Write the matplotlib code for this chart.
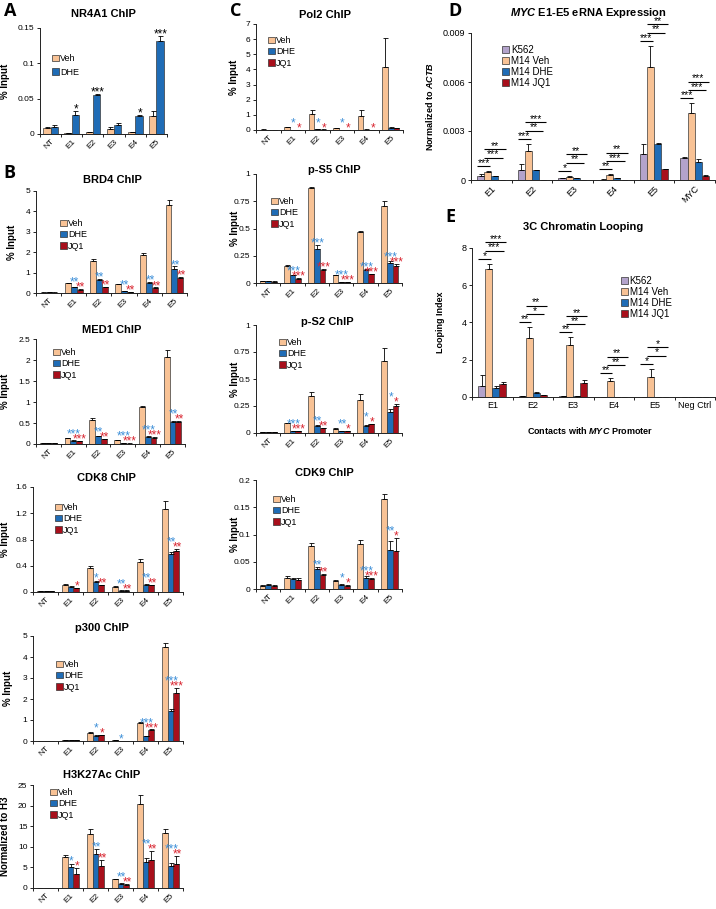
import numpy as np
import matplotlib
matplotlib.use('Agg')
import matplotlib.pyplot as plt
from matplotlib.patches import Patch

plt.rcParams['font.family'] = ['Liberation Sans', 'DejaVu Sans']
plt.rcParams['mathtext.fontset'] = 'custom'
plt.rcParams['mathtext.it'] = 'Liberation Sans:italic:bold'
plt.rcParams['mathtext.rm'] = 'Liberation Sans:bold'
plt.rcParams['mathtext.bf'] = 'Liberation Sans:bold'

W, H = 716, 909

cats = ['NT', 'E1', 'E2', 'E3', 'E4', 'E5']

# ---- A: NR4A1 ChIP
nr4a1_veh = [0.008, 0.001, 0.003, 0.007, 0.003, 0.026]
nr4a1_veh_err = [0.002, 0.0005, 0.0005, 0.003, 0.0005, 0.007]
nr4a1_dhe = [0.010, 0.027, 0.055, 0.013, 0.025, 0.131]
nr4a1_dhe_err = [0.003, 0.005, 0.001, 0.002, 0.002, 0.008]
nr4a1_sig = ['', '*', '***', '', '*', '***']

# ---- B: BRD4 ChIP
brd4_veh = [0.02, 0.48, 1.57, 0.42, 1.87, 4.30]
brd4_veh_err = [0.01, 0.03, 0.08, 0.03, 0.10, 0.28]
brd4_dhe = [0.03, 0.28, 0.65, 0.10, 0.50, 1.20]
brd4_dhe_err = [0.01, 0.02, 0.03, 0.01, 0.03, 0.10]
brd4_jq1 = [0.02, 0.17, 0.27, 0.05, 0.25, 0.75]
brd4_jq1_err = [0.01, 0.01, 0.02, 0.01, 0.02, 0.04]
brd4_dhe_sig = ['', '**', '**', '**', '**', '**']
brd4_jq1_sig = ['', '**', '**', '**', '**', '**']

# ---- B: MED1 ChIP
med1_veh = [0.02, 0.14, 0.58, 0.09, 0.87, 2.07]
med1_veh_err = [0.005, 0.01, 0.03, 0.01, 0.03, 0.18]
med1_dhe = [0.02, 0.08, 0.18, 0.02, 0.17, 0.52]
med1_dhe_err = [0.005, 0.01, 0.01, 0.005, 0.01, 0.03]
med1_jq1 = [0.02, 0.06, 0.12, 0.01, 0.15, 0.52]
med1_jq1_err = [0.005, 0.005, 0.01, 0.005, 0.01, 0.02]
med1_dhe_sig = ['', '***', '**', '***', '***', '**']
med1_jq1_sig = ['', '***', '**', '***', '***', '**']

# ---- B: CDK8 ChIP
cdk8_veh = [0.01, 0.11, 0.37, 0.08, 0.46, 1.26]
cdk8_veh_err = [0.003, 0.01, 0.03, 0.005, 0.05, 0.13]
cdk8_dhe = [0.01, 0.08, 0.16, 0.02, 0.11, 0.58]
cdk8_dhe_err = [0.003, 0.005, 0.01, 0.003, 0.01, 0.03]
cdk8_jq1 = [0.01, 0.06, 0.10, 0.02, 0.10, 0.62]
cdk8_jq1_err = [0.003, 0.005, 0.01, 0.003, 0.01, 0.04]
cdk8_dhe_sig = ['', '', '*', '**', '**', '**']
cdk8_jq1_sig = ['', '*', '**', '**', '**', '**']

# ---- B: p300 ChIP
p300_veh = [0.01, 0.04, 0.40, 0.04, 0.88, 4.47]
p300_veh_err = [0.005, 0.01, 0.03, 0.01, 0.03, 0.18]
p300_dhe = [0.01, 0.03, 0.25, 0.01, 0.23, 1.45]
p300_dhe_err = [0.005, 0.01, 0.02, 0.005, 0.02, 0.08]
p300_jq1 = [0.01, 0.04, 0.28, 0.01, 0.52, 2.28]
p300_jq1_err = [0.005, 0.01, 0.02, 0.005, 0.03, 0.25]
p300_dhe_sig = ['', '', '*', '*', '***', '***']
p300_jq1_sig = ['', '', '*', '', '***', '***']

# ---- B: H3K27Ac ChIP
h3k27_veh = [0.05, 7.5, 13.2, 2.1, 20.4, 13.4]
h3k27_veh_err = [0.02, 0.6, 1.1, 0.2, 2.2, 0.9]
h3k27_dhe = [0.05, 5.0, 8.3, 0.9, 6.3, 5.3]
h3k27_dhe_err = [0.02, 0.8, 1.1, 0.2, 1.0, 0.7]
h3k27_jq1 = [0.05, 3.5, 5.3, 0.7, 6.7, 5.8]
h3k27_jq1_err = [0.02, 1.3, 1.6, 0.3, 2.2, 1.9]
h3k27_dhe_sig = ['', '*', '**', '**', '**', '***']
h3k27_jq1_sig = ['', '*', '**', '**', '**', '**']

# ---- C: Pol2 ChIP
pol2_veh = [0.03, 0.18, 1.05, 0.10, 0.95, 4.15]
pol2_veh_err = [0.01, 0.02, 0.28, 0.02, 0.35, 1.90]
pol2_dhe = [0.02, 0.02, 0.08, 0.02, 0.03, 0.15]
pol2_dhe_err = [0.005, 0.005, 0.01, 0.005, 0.005, 0.02]
pol2_jq1 = [0.02, 0.02, 0.03, 0.02, 0.02, 0.10]
pol2_jq1_err = [0.005, 0.005, 0.005, 0.005, 0.005, 0.01]
pol2_dhe_sig = ['', '*', '*', '*', '', '']
pol2_jq1_sig = ['', '*', '*', '*', '*', '']

# ---- C: p-S5 ChIP
ps5_veh = [0.020, 0.160, 0.870, 0.070, 0.470, 0.710]
ps5_veh_err = [0.002, 0.005, 0.015, 0.003, 0.005, 0.040]
ps5_dhe = [0.015, 0.070, 0.310, 0.010, 0.120, 0.180]
ps5_dhe_err = [0.002, 0.005, 0.035, 0.002, 0.008, 0.020]
ps5_jq1 = [0.012, 0.040, 0.120, 0.010, 0.080, 0.160]
ps5_jq1_err = [0.002, 0.003, 0.010, 0.002, 0.005, 0.015]
ps5_dhe_sig = ['', '***', '***', '***', '***', '***']
ps5_jq1_sig = ['', '***', '***', '***', '***', '***']

# ---- C: p-S2 ChIP
ps2_veh = [0.010, 0.090, 0.340, 0.040, 0.310, 0.670]
ps2_veh_err = [0.002, 0.005, 0.040, 0.003, 0.050, 0.120]
ps2_dhe = [0.010, 0.020, 0.065, 0.015, 0.065, 0.190]
ps2_dhe_err = [0.002, 0.003, 0.008, 0.002, 0.008, 0.030]
ps2_jq1 = [0.010, 0.020, 0.045, 0.015, 0.080, 0.250]
ps2_jq1_err = [0.002, 0.003, 0.005, 0.002, 0.006, 0.020]
ps2_dhe_sig = ['', '***', '**', '**', '*', '*']
ps2_jq1_sig = ['', '***', '**', '*', '*', '*']

# ---- C: CDK9 ChIP
cdk9_veh = [0.006, 0.020, 0.078, 0.014, 0.083, 0.165]
cdk9_veh_err = [0.002, 0.003, 0.006, 0.002, 0.006, 0.010]
cdk9_dhe = [0.007, 0.018, 0.037, 0.008, 0.020, 0.072]
cdk9_dhe_err = [0.002, 0.003, 0.004, 0.002, 0.003, 0.016]
cdk9_jq1 = [0.005, 0.017, 0.025, 0.005, 0.018, 0.069]
cdk9_jq1_err = [0.002, 0.003, 0.003, 0.002, 0.003, 0.025]
cdk9_dhe_sig = ['', '', '**', '*', '***', '**']
cdk9_jq1_sig = ['', '', '**', '*', '***', '*']

# ---- D: MYC eRNA expression
erna_cats = ['E1', 'E2', 'E3', 'E4', 'E5', 'MYC']
erna_k562 = [0.00026, 0.0006, 0.0001, 0.00003, 0.0016, 0.00135]
erna_k562_err = [0.0001, 0.0004, 0.00005, 0.00002, 0.0006, 0.00005]
erna_veh = [0.0005, 0.0018, 0.0002, 0.0003, 0.0069, 0.0041]
erna_veh_err = [0.00005, 0.0004, 0.00005, 0.00005, 0.0013, 0.0006]
erna_dhe = [0.00025, 0.0006, 0.0001, 0.0001, 0.0022, 0.0011]
erna_dhe_err = [0.00002, 0.00003, 0.00002, 0.00002, 0.00005, 0.0002]
erna_jq1 = [0.00002, 0.00002, 0.00002, 0.00001, 0.00067, 0.00025]
erna_jq1_err = [0.00001, 0.00001, 0.00001, 0.00001, 0.00003, 0.00003]
erna_brackets = [['***', '***', '**'], ['***', '**', '***'], ['*', '**', '**'],
                 ['**', '***', '**'], ['***', '**', '**'], ['***', '***', '***']]

# ---- E: 3C looping
loop_cats = ['E1', 'E2', 'E3', 'E4', 'E5', 'Neg Ctrl']
loop_k562 = [0.60, 0.03, 0.03, 0.01, 0.01, 0.01]
loop_k562_err = [0.60, 0.02, 0.02, 0.01, 0.01, 0.01]
loop_veh = [6.85, 3.15, 2.80, 0.85, 1.10, 0.01]
loop_veh_err = [0.30, 0.60, 0.40, 0.15, 0.40, 0.01]
loop_dhe = [0.47, 0.20, 0.03, 0.01, 0.01, 0.01]
loop_dhe_err = [0.10, 0.05, 0.02, 0.01, 0.01, 0.01]
loop_jq1 = [0.68, 0.10, 0.73, 0.01, 0.01, 0.01]
loop_jq1_err = [0.15, 0.03, 0.20, 0.01, 0.01, 0.01]
loop_brackets = [['*', '***', '***'], ['**', '*', '**'], ['**', '**', '**'],
                 ['**', '**', '**'], ['*', '*', '*'], []]

VEH = '#F8C295'
DHE = '#1F6CB6'
JQ1 = '#A80F1B'
K562 = '#B3A3CB'
STAR_BLUE = '#3D8FD8'
STAR_RED = '#D92530'

fig = plt.figure(figsize=(W / 100, H / 100), dpi=100)


def px_box(l, r, t, b):
    return [l / W, 1 - b / H, (r - l) / W, (b - t) / H]


def bar_panel(box, labels, vals, errs, colors, ymax, ystep, tick_fs=6,
              rot=45, sigs=None, sig_colors=None):
    l, r, t, b = box
    ax = fig.add_axes(px_box(l, r, t, b))
    px_unit = ymax / (b - t)
    n = len(vals)
    width = 0.7 / n
    x = np.arange(len(labels))
    tops = []
    for i, (v, e, c) in enumerate(zip(vals, errs, colors)):
        pos = x - 0.35 + width * (i + 0.5)
        v = np.asarray(v)
        e = np.asarray(e)
        ax.bar(pos, v, width, color=c, edgecolor='#3a3a3a', linewidth=0.5,
               yerr=[np.zeros(len(e)), e],
               error_kw=dict(ecolor='black', elinewidth=0.6, capsize=1.8,
                             capthick=0.6), zorder=2)
        tops.append((pos, v + e))
    if sigs is not None:
        last = None
        for i in range(n - 1, -1, -1):
            if sigs[i] is None:
                continue
            pos, top = tops[i]
            ys = top - 1.5 * px_unit
            if last is not None:
                ys = np.maximum(ys, last + 5 * px_unit)
            for k, s in enumerate(sigs[i]):
                if s:
                    ax.text(pos[k] + 0.03, ys[k], s, ha='center', va='baseline',
                            fontsize=8.5, color=sig_colors[i], zorder=3)
            last = np.where([s != '' for s in sigs[i]], ys, -1e9)
    ax.set_xlim(-0.5, len(labels) - 0.5)
    ax.set_ylim(0, ymax)
    yt = np.arange(0, ymax + ystep / 2, ystep)
    ax.set_yticks(yt)
    ax.set_yticklabels(['{:g}'.format(round(v, 6)) for v in yt], fontsize=tick_fs)
    ax.set_xticks(x)
    if rot:
        ax.set_xticklabels(labels, fontsize=tick_fs, rotation=rot, ha='right',
                           rotation_mode='anchor')
    else:
        ax.set_xticklabels(labels, fontsize=tick_fs)
    ax.set_xticks(np.arange(-0.5, len(labels)), minor=True)
    ax.tick_params(axis='x', which='major', length=0, pad=3)
    ax.tick_params(axis='x', which='minor', length=2.5, width=0.6, direction='out')
    ax.tick_params(axis='y', length=2.5, width=0.6, direction='out', pad=1.5)
    for s in ['top', 'right']:
        ax.spines[s].set_visible(False)
    for s in ['left', 'bottom']:
        ax.spines[s].set_linewidth(0.7)
        ax.spines[s].set_color('#222222')
    return ax


def legend_at(ax, names, colors, x, y, fs=6.5, spacing=0.25):
    handles = [Patch(facecolor=c, edgecolor='#333333', linewidth=0.5) for c in colors]
    ax.legend(handles, names, loc='upper left', bbox_to_anchor=(x / W, 1 - y / H),
              bbox_transform=fig.transFigure, frameon=False, fontsize=fs,
              handlelength=0.75, handleheight=0.75, handletextpad=0.15,
              labelspacing=spacing, borderpad=0, borderaxespad=0)


def ylabel_at(ax, text, x, box, fs=7):
    l, r = box[0], box[1]
    ax.set_ylabel(text, fontsize=fs, fontweight='bold')
    ax.yaxis.set_label_coords((x - l) / (r - l), 0.5)


def title_at(text, x, y, fs=8):
    fig.text(x / W, 1 - y / H, text, ha='center', va='center', fontsize=fs,
             fontweight='bold')


def brackets(ax, box, ymax, vals, errs, labels):
    l, r, t, b = box
    px_unit = ymax / (b - t)
    n = len(vals)
    width = 0.7 / n
    for k, labs in enumerate(labels):
        if not labs:
            continue
        top = max(np.asarray(v)[k] + np.asarray(e)[k] for v, e in zip(vals, errs))
        pos = [k - 0.35 + width * (i + 0.5) for i in range(n)]
        spans = [(pos[0] - width / 2, pos[1] + width * 0.3),
                 (pos[1] - width / 2, pos[3] + width * 0.1),
                 (pos[1] - width / 2, pos[3] + width * 0.5)]
        for j, s in enumerate(labs):
            yy = top + (5 + 8.3 * j) * px_unit
            x0, x1 = spans[j]
            ax.plot([x0, x1], [yy, yy], color='black', lw=0.8, clip_on=False,
                    solid_capstyle='butt', zorder=4)
            ax.text((x0 + x1) / 2, yy + 0.2 * px_unit, s, ha='center',
                    va='baseline', fontsize=7.5, clip_on=False)


three = ['Veh', 'DHE', 'JQ1']
c3 = [VEH, DHE, JQ1]
sc3 = [None, STAR_BLUE, STAR_RED]

# ---- Panel A
box = (40, 167, 28, 134)
ax = bar_panel(box, cats, [nr4a1_veh, nr4a1_dhe], [nr4a1_veh_err, nr4a1_dhe_err],
               [VEH, DHE], 0.15, 0.05, sigs=[None, nr4a1_sig],
               sig_colors=[None, 'black'])
legend_at(ax, ['Veh', 'DHE'], [VEH, DHE], 52, 54, spacing=0.5)
ylabel_at(ax, '% Input', 10, box)
title_at('NR4A1 ChIP', 103, 14)

# ---- Panel B
b_panels = [
    ('BRD4 ChIP', (36, 187, 191, 293), 5, 1,
     [brd4_veh, brd4_dhe, brd4_jq1], [brd4_veh_err, brd4_dhe_err, brd4_jq1_err],
     [None, brd4_dhe_sig, brd4_jq1_sig], (60, 219), 112, 180, 17, '% Input'),
    ('MED1 ChIP', (36, 185, 339, 444), 2.5, 0.5,
     [med1_veh, med1_dhe, med1_jq1], [med1_veh_err, med1_dhe_err, med1_jq1_err],
     [None, med1_dhe_sig, med1_jq1_sig], (53, 348), 112, 330, 10, '% Input'),
    ('CDK8 ChIP', (33, 183, 487, 592), 1.6, 0.4,
     [cdk8_veh, cdk8_dhe, cdk8_jq1], [cdk8_veh_err, cdk8_dhe_err, cdk8_jq1_err],
     [None, cdk8_dhe_sig, cdk8_jq1_sig], (55, 503), 106, 478, 10, '% Input'),
    ('p300 ChIP', (33, 183, 636, 741), 5, 1,
     [p300_veh, p300_dhe, p300_jq1], [p300_veh_err, p300_dhe_err, p300_jq1_err],
     [None, p300_dhe_sig, p300_jq1_sig], (56, 660), 102, 628, 13, '% Input'),
    ('H3K27Ac ChIP', (33, 183, 785, 888), 25, 5,
     [h3k27_veh, h3k27_dhe, h3k27_jq1], [h3k27_veh_err, h3k27_dhe_err, h3k27_jq1_err],
     [None, h3k27_dhe_sig, h3k27_jq1_sig], (50, 788), 102, 775, 10, 'Normalized to H3'),
    # ---- Panel C
    ('Pol2 ChIP', (256, 403, 24, 130), 7, 1,
     [pol2_veh, pol2_dhe, pol2_jq1], [pol2_veh_err, pol2_dhe_err, pol2_jq1_err],
     [None, pol2_dhe_sig, pol2_jq1_sig], (268, 36), 325, 15, 239, '% Input'),
    ('p-S5 ChIP', (256, 402, 174, 283), 1, 0.25,
     [ps5_veh, ps5_dhe, ps5_jq1], [ps5_veh_err, ps5_dhe_err, ps5_jq1_err],
     [None, ps5_dhe_sig, ps5_jq1_sig], (271, 197), 334, 170, 240, '% Input'),
    ('p-S2 ChIP', (256, 402, 325, 433), 1, 0.25,
     [ps2_veh, ps2_dhe, ps2_jq1], [ps2_veh_err, ps2_dhe_err, ps2_jq1_err],
     [None, ps2_dhe_sig, ps2_jq1_sig], (279, 338), 327, 322, 240, '% Input'),
    ('CDK9 ChIP', (256, 402, 480, 589), 0.2, 0.05,
     [cdk9_veh, cdk9_dhe, cdk9_jq1], [cdk9_veh_err, cdk9_dhe_err, cdk9_jq1_err],
     [None, cdk9_dhe_sig, cdk9_jq1_sig], (273, 495), 324, 473, 240, '% Input'),
]

for (ttl, box, ymax, ystep, vals, errs, sigs, lpos, tx, ty, ylx, ylab) in b_panels:
    ax = bar_panel(box, cats, vals, errs, c3, ymax, ystep, sigs=sigs,
                   sig_colors=sc3)
    legend_at(ax, three, c3, lpos[0], lpos[1])
    ylabel_at(ax, ylab, ylx, box)
    title_at(ttl, tx, ty)

# ---- Panel D
box = (471, 715, 33, 180)
d_vals = [erna_k562, erna_veh, erna_dhe, erna_jq1]
d_errs = [erna_k562_err, erna_veh_err, erna_dhe_err, erna_jq1_err]
four = ['K562', 'M14 Veh', 'M14 DHE', 'M14 JQ1']
c4 = [K562, VEH, DHE, JQ1]
ax = bar_panel(box, erna_cats, d_vals, d_errs, c4, 0.009, 0.003, tick_fs=6.5)
brackets(ax, box, 0.009, d_vals, d_errs, erna_brackets)
legend_at(ax, four, c4, 502, 45, fs=7, spacing=0.1)
ylabel_at(ax, r'Normalized to $\mathit{ACTB}$', 435, box, fs=6.5)
title_at(r'$\mathit{MYC}$ E1-E5 eRNA Expression', 588, 13)

# ---- Panel E
box = (472, 715, 248, 397)
e_vals = [loop_k562, loop_veh, loop_dhe, loop_jq1]
e_errs = [loop_k562_err, loop_veh_err, loop_dhe_err, loop_jq1_err]
ax = bar_panel(box, loop_cats, e_vals, e_errs, c4, 8, 2, tick_fs=6.5, rot=0)
brackets(ax, box, 8, e_vals, e_errs, loop_brackets)
legend_at(ax, four, c4, 621, 276, fs=7, spacing=0.1)
ylabel_at(ax, 'Looping Index', 445, box, fs=6.5)
title_at('3C Chromatin Looping', 583, 227)
fig.text(590 / W, 1 - 430 / H, r'Contacts with $\mathit{MYC}$ Promoter',
         ha='center', va='center', fontsize=6.5, fontweight='bold')

# ---- panel letters
for letter, lx, ly in [('A', 10, 11), ('B', 9, 173), ('C', 236, 11),
                       ('D', 455, 11), ('E', 450, 217)]:
    fig.text(lx / W, 1 - ly / H, letter, ha='center', va='center', fontsize=13,
             fontweight='bold', family=['Open Sans', 'DejaVu Sans'])

fig.savefig('out.png', dpi=100)
